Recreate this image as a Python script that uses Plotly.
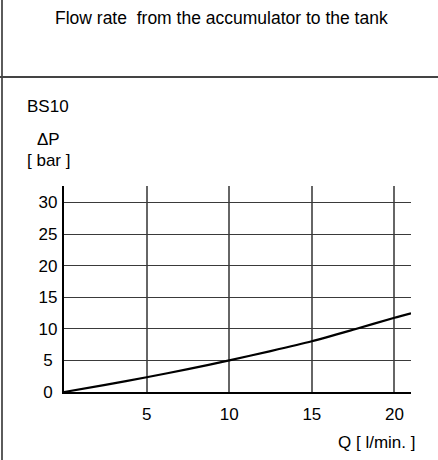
import plotly.graph_objects as go

# ---- data ----
flow_q = [0, 2.5, 5, 7.5, 10, 12.5, 15, 17.5, 20, 21]
delta_p = [0, 1.12, 2.34, 3.62, 5.0, 6.47, 8.03, 9.86, 11.75, 12.45]

x_tick_vals = [5, 10, 15, 20]
x_tick_labels = ["5", "10", "15", "20"]
y_tick_vals = [0, 5, 10, 15, 20, 25, 30]
y_tick_labels = ["0", "5", "10", "15", "20", "25", "30"]

title_text = "Flow rate  from the accumulator to the tank"
model_text = "BS10"
y_name_text = "ΔP"
y_unit_text = "[ bar ]"
x_name_text = "Q [ l/min. ]"

# ---- layout geometry (pixels) ----
W, H = 438, 460
ML, MR, MT, MB = 64, 27, 186, 68
PW = W - ML - MR
PH = H - MT - MB

def px(xp):
    return (xp - ML) / PW

def py(yp):
    return (H - MB - yp) / PH

FONT = "Liberation Sans, Arial, sans-serif"
FS = 17

fig = go.Figure()
fig.add_trace(go.Scatter(
    x=flow_q, y=delta_p, mode="lines",
    line=dict(color="black", width=2.2, shape="spline", smoothing=0.6),
    hoverinfo="skip", showlegend=False,
))

# pad single digit labels so they appear centred like the reference
y_ticktext = [t if len(t) > 1 else t + "\u2008" for t in y_tick_labels]

fig.update_xaxes(
    range=[0, 21], tickmode="array", tickvals=x_tick_vals, ticktext=x_tick_labels,
    showgrid=True, gridcolor="#666666", gridwidth=1.6,
    showline=True, linecolor="black", linewidth=2.2,
    zeroline=False, ticks="", ticklabelstandoff=5,
    tickfont=dict(family=FONT, size=FS, color="black"),
    fixedrange=True,
)
fig.update_yaxes(
    range=[0, 32.6], tickmode="array", tickvals=y_tick_vals, ticktext=y_ticktext,
    showgrid=True, gridcolor="#3a3a3a", gridwidth=1.3,
    showline=True, linecolor="black", linewidth=2.2,
    zeroline=False, ticks="", ticklabelstandoff=1,
    tickfont=dict(family=FONT, size=FS, color="black"),
    fixedrange=True,
)

ann = []
def add_text(text, xp, yp, size, xanchor="center"):
    ann.append(dict(text=text, x=px(xp), y=py(yp), xref="paper", yref="paper",
                    xanchor=xanchor, yanchor="middle", showarrow=False,
                    font=dict(family=FONT, size=size, color="black")))

add_text(title_text, 221, 18, 17.5)
add_text(model_text, 48, 107, FS)
add_text(y_name_text, 48, 139, FS)
add_text(y_unit_text, 48, 160, FS)
add_text(x_name_text, 417, 442, FS, xanchor="right")

shapes = [
    dict(type="line", xref="paper", yref="paper", x0=px(2), x1=px(2), y0=py(0), y1=py(H),
         line=dict(color="#333333", width=1.6)),
    dict(type="line", xref="paper", yref="paper", x0=px(0), x1=px(W), y0=py(77), y1=py(77),
         line=dict(color="#444444", width=2)),
]

fig.update_layout(
    width=W, height=H, margin=dict(l=ML, r=MR, t=MT, b=MB, pad=0),
    paper_bgcolor="white", plot_bgcolor="white",
    annotations=ann, shapes=shapes, showlegend=False,
)

fig.write_html("out.html", config={"displayModeBar": False},
               post_script="document.body.style.margin='0';document.body.style.padding='0';")
